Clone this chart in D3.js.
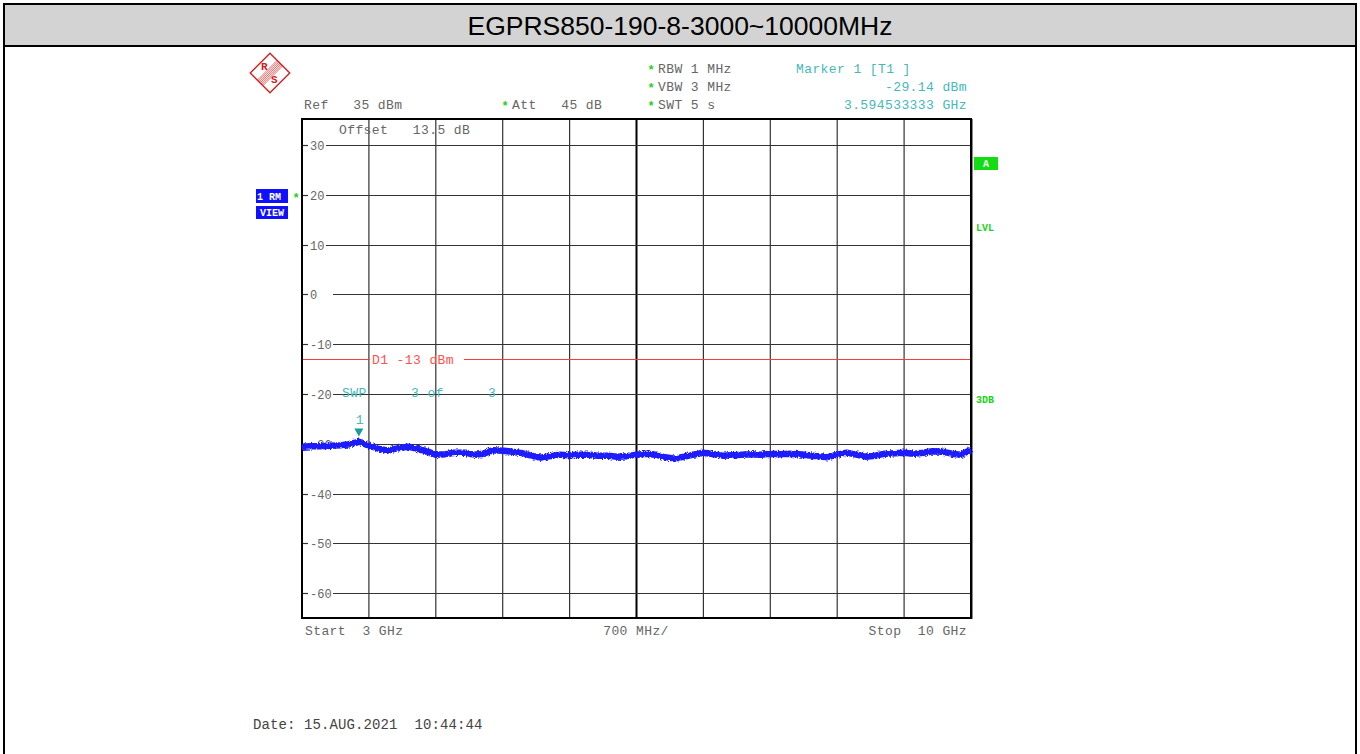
<!DOCTYPE html>
<html>
<head>
<meta charset="utf-8">
<script src="https://cdn.jsdelivr.net/npm/d3@7"></script>
<style>
  html, body { margin: 0; padding: 0; background: #fff; }
  svg text { font-family: "Liberation Mono", "DejaVu Sans Mono", monospace; }
</style>
</head>
<body>
<svg id="chart" width="1360" height="754"></svg>
<script>
// ---- data ----
const title = 'EGPRS850-190-8-3000~10000MHz';
const yTicks = [30, 20, 10, 0, -10, -20, -30, -40, -50, -60];
const xGrid = [3, 3.7, 4.4, 5.1, 5.8, 6.5, 7.2, 7.9, 8.6, 9.3, 10];
const traceFreq = [
  3.0, 3.1, 3.2, 3.3, 3.4, 3.5, 3.6, 3.7, 3.8, 3.9,
  4.0, 4.1, 4.2, 4.3, 4.4, 4.5, 4.6, 4.7, 4.8, 4.9,
  5.0, 5.1, 5.2, 5.3, 5.4, 5.5, 5.6, 5.7, 5.8, 5.9,
  6.0, 6.1, 6.2, 6.3, 6.4, 6.5, 6.6, 6.7, 6.8, 6.9,
  7.0, 7.1, 7.2, 7.3, 7.4, 7.5, 7.6, 7.7, 7.8, 7.9,
  8.0, 8.1, 8.2, 8.3, 8.4, 8.5, 8.6, 8.7, 8.8, 8.9,
  9.0, 9.1, 9.2, 9.3, 9.4, 9.5, 9.6, 9.7, 9.8, 9.9, 10.0
];
const traceLevel = [
  -30.6, -30.5, -30.5, -30.4, -30.3, -30.1, -29.6, -30.4, -31.0, -31.4,
  -30.9, -30.6, -31.0, -31.5, -32.2, -32.1, -31.8, -31.8, -32.2, -32.0,
  -31.3, -31.4, -31.6, -31.9, -32.4, -32.8, -32.5, -32.2, -32.3, -32.2,
  -32.2, -32.4, -32.4, -32.6, -32.5, -32.2, -32.0, -32.2, -32.7, -33.0,
  -32.6, -32.2, -31.8, -32.1, -32.4, -32.3, -32.2, -32.1, -32.2, -32.0,
  -32.1, -32.0, -32.1, -32.3, -32.5, -32.7, -32.2, -31.8, -32.2, -32.6,
  -32.4, -32.0, -31.9, -31.8, -32.0, -31.8, -31.5, -31.6, -32.0, -32.2, -31.2
];
const marker = { freq: 3.594533333, level: -29.14 };
const displayLine = -13;

const svg = d3.select('#chart');
const x = d3.scaleLinear().domain([3, 10]).range([302, 971]);
const y = d3.scaleLinear().domain([-65, 35]).range([618, 120]);

const gray = '#666', teal = '#45b9b9', green = '#19d319';

// rough edge for the trace, like the analyzer's noisy RMS trace
const defs = svg.append('defs');
const flt = defs.append('filter').attr('id', 'rough')
  .attr('x', '-2%').attr('y', '-50%').attr('width', '104%').attr('height', '200%');
flt.append('feTurbulence').attr('type', 'fractalNoise').attr('baseFrequency', 0.6)
  .attr('numOctaves', 2).attr('seed', 3).attr('result', 'n');
flt.append('feDisplacementMap').attr('in', 'SourceGraphic').attr('in2', 'n')
  .attr('scale', 4).attr('xChannelSelector', 'R').attr('yChannelSelector', 'G');

// outer frame + title bar
svg.append('rect').attr('x', 4).attr('y', 4).attr('width', 1352).attr('height', 760)
  .attr('fill', '#fff').attr('stroke', '#000').attr('stroke-width', 2);
svg.append('rect').attr('x', 4).attr('y', 4).attr('width', 1352).attr('height', 42)
  .attr('fill', '#d3d3d3').attr('stroke', '#000').attr('stroke-width', 2);
svg.append('text').attr('x', 680).attr('y', 35).attr('text-anchor', 'middle')
  .style('font-family', 'Arial, "Liberation Sans", sans-serif').attr('font-size', 26.5)
  .attr('fill', '#000').text(title);

// R&S logo
const logo = svg.append('g').attr('transform', 'translate(270,73) rotate(45)');
logo.append('rect').attr('x', -14).attr('y', -14).attr('width', 28).attr('height', 28)
  .attr('fill', 'none').attr('stroke', '#d42020').attr('stroke-width', 1.4);
for (let i = -3; i <= 3; i++) {
  logo.append('line').attr('x1', i * 1.3).attr('x2', i * 1.3).attr('y1', -14).attr('y2', 14)
    .attr('stroke', '#d42020').attr('stroke-width', 0.6);
}
svg.append('text').attr('x', 261).attr('y', 70).attr('font-size', 11).attr('font-weight', 'bold')
  .attr('fill', '#d42020').text('R');
svg.append('text').attr('x', 271).attr('y', 83).attr('font-size', 11).attr('font-weight', 'bold')
  .attr('fill', '#d42020').text('S');

// header texts
function txt(xp, yp, s, color, anchor, size) {
  return svg.append('text').attr('x', xp).attr('y', yp)
    .attr('font-size', size || 13).attr('letter-spacing', 0.4)
    .attr('fill', color).attr('text-anchor', anchor || 'start')
    .style('white-space', 'pre').text(s);
}
function star(xp, yp) {
  svg.append('text').attr('x', xp).attr('y', yp).attr('font-size', 12).attr('font-weight', 'bold')
    .attr('fill', green).attr('text-anchor', 'middle').text('*');
}
txt(304, 109, 'Ref   35 dBm', gray);
star(505, 110); txt(512, 109, 'Att   45 dB', gray);
star(651, 74); txt(658, 73, 'RBW 1 MHz', gray);
star(651, 92); txt(658, 91, 'VBW 3 MHz', gray);
star(651, 110); txt(658, 109, 'SWT 5 s', gray);
txt(796, 73, 'Marker 1 [T1 ]', teal);
txt(967, 91, '-29.14 dBm', teal, 'end');
txt(967, 109, '3.594533333 GHz', teal, 'end');

// left side boxes
svg.append('rect').attr('x', 256).attr('y', 189).attr('width', 32).attr('height', 14).attr('fill', '#1010ff');
svg.append('rect').attr('x', 256).attr('y', 206).attr('width', 32).attr('height', 13).attr('fill', '#1010ff');
svg.append('text').attr('x', 257).attr('y', 200).attr('font-size', 10).attr('font-weight', 'bold')
  .attr('fill', '#fff').style('white-space', 'pre').text('1 RM');
svg.append('text').attr('x', 272).attr('y', 216).attr('font-size', 10).attr('font-weight', 'bold')
  .attr('text-anchor', 'middle').attr('fill', '#fff').text('VIEW');
star(296, 202);

// right side indicators
svg.append('rect').attr('x', 974).attr('y', 157).attr('width', 24).attr('height', 13).attr('fill', '#12dd12');
svg.append('text').attr('x', 986).attr('y', 167).attr('font-size', 10).attr('font-weight', 'bold')
  .attr('text-anchor', 'middle').attr('fill', '#fff').text('A');
svg.append('text').attr('x', 976).attr('y', 231).attr('font-size', 10).attr('font-weight', 'bold')
  .attr('fill', green).text('LVL');
svg.append('text').attr('x', 976).attr('y', 403).attr('font-size', 10).attr('font-weight', 'bold')
  .attr('fill', green).text('3DB');

// grid
const grid = svg.append('g');
xGrid.slice(1, -1).forEach(f => {
  grid.append('line').attr('x1', x(f)).attr('x2', x(f)).attr('y1', 120).attr('y2', 618)
    .attr('stroke', f === 6.5 ? '#000' : '#333').attr('stroke-width', f === 6.5 ? 2 : 1.2);
});
yTicks.forEach(v => {
  const yy = Math.round(y(v)) + 0.5;
  const w = String(v).length === 2 ? 18 : 25;
  grid.append('line').attr('x1', 302).attr('x2', 308).attr('y1', yy).attr('y2', yy)
    .attr('stroke', '#333').attr('stroke-width', 1.2);
  grid.append('line').attr('x1', 308 + w).attr('x2', 971).attr('y1', yy).attr('y2', yy)
    .attr('stroke', '#333').attr('stroke-width', 1.2);
  grid.append('text').attr('x', 310).attr('y', yy + 4).attr('font-size', 12)
    .attr('fill', gray).text(String(v));
});

// plot frame
svg.append('rect').attr('x', 302).attr('y', 119).attr('width', 669).attr('height', 499)
  .attr('fill', 'none').attr('stroke', '#000').attr('stroke-width', 2);
svg.append('line').attr('x1', 972.5).attr('x2', 972.5).attr('y1', 119).attr('y2', 619)
  .attr('stroke', '#888').attr('stroke-width', 1);

txt(339, 134, 'Offset   13.5 dB', gray);

// display line D1
const dy = Math.round(y(displayLine)) + 0.5;
svg.append('line').attr('x1', 303).attr('x2', 370).attr('y1', dy).attr('y2', dy)
  .attr('stroke', '#ff3a3a').attr('stroke-width', 1.2);
svg.append('line').attr('x1', 464).attr('x2', 970).attr('y1', dy).attr('y2', dy)
  .attr('stroke', '#ff3a3a').attr('stroke-width', 1.2);
txt(372, dy + 4, 'D1 -13 dBm', '#ff5050', 'start', 13);

// sweep count
txt(342, 397, 'SWP', teal, 'start', 13);
txt(411, 397, '3 of', teal, 'start', 13);
txt(488, 397, '3', teal, 'start', 13);

// trace
const line = d3.line().x((d, i) => x(traceFreq[i])).y(d => y(d));
svg.append('path').datum(traceLevel).attr('d', line)
  .attr('fill', 'none').attr('stroke', '#1a1aff').attr('stroke-width', 6.5)
  .attr('stroke-linejoin', 'round').attr('filter', 'url(#rough)');

// marker 1
const mx = x(marker.freq), my = y(marker.level);
svg.append('path').attr('d', `M${mx - 4.5},${my - 11} L${mx + 4.5},${my - 11} L${mx},${my - 3} Z`)
  .attr('fill', '#1a9a9a');
txt(mx + 1, my - 15, '1', teal, 'middle', 13);

// bottom labels
txt(305, 635, 'Start  3 GHz', gray);
txt(636, 635, '700 MHz/', gray, 'middle');
txt(967, 635, 'Stop  10 GHz', gray, 'end');

svg.append('text').attr('x', 253).attr('y', 729).attr('font-size', 14)
  .attr('letter-spacing', 0.1).attr('fill', '#444')
  .style('white-space', 'pre').text('Date: 15.AUG.2021  10:44:44');
</script>
</body>
</html>
